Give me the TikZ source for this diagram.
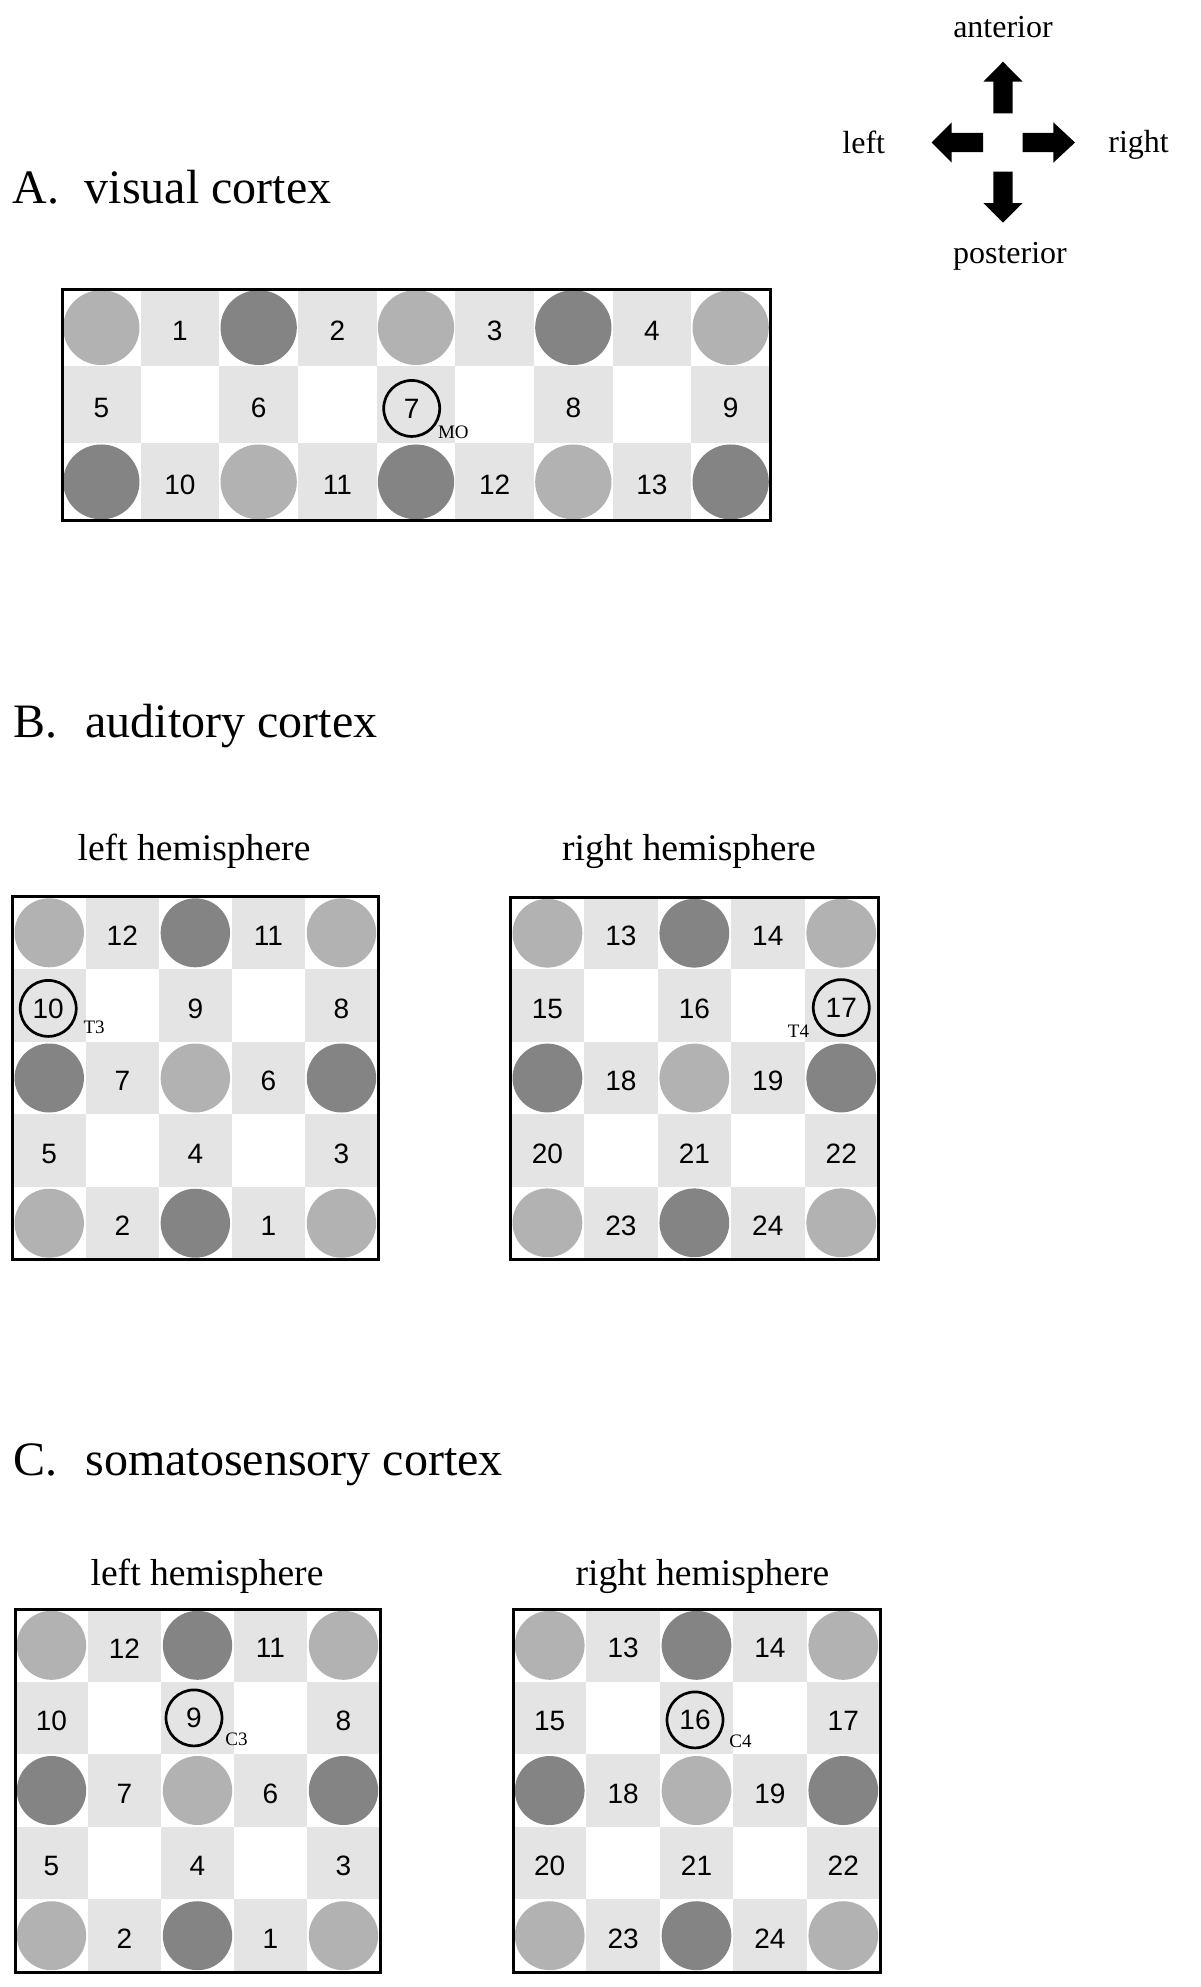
\documentclass[tikz,border=0pt]{standalone}
\usepackage{fontspec}
\setmainfont{Liberation Serif}
\newfontfamily\numfont{Liberation Sans}
\usetikzlibrary{calc}
\definecolor{cellgray}{RGB}{228,228,228}
\definecolor{lightdot}{RGB}{178,178,178}
\definecolor{darkdot}{RGB}{132,132,132}
\tikzset{
  heading/.style={anchor=base west, inner sep=0pt, font=\fontsize{24}{28}\selectfont},
  subtitle/.style={anchor=base, inner sep=0pt, font=\fontsize{18.8}{22}\selectfont},
  compass/.style={inner sep=0pt, font=\fontsize{16}{19}\selectfont},
  num/.style={inner sep=0pt, font=\numfont\fontsize{14}{16}\selectfont, yshift=-1.5pt},
  ring/.style={circle, draw, line width=1.35pt, minimum size=28pt, inner sep=0pt, font=\numfont\fontsize{14}{16}\selectfont},
  sitelabel/.style={inner sep=0pt, font=\fontsize{9.5}{11}\selectfont},
  frame/.style={draw, line width=1.5pt},
  blockarrow/.style={fill=black},
}
\newcommand\checker[2]{%
  \foreach \cx in {1,...,#1}{\foreach \ry in {1,...,#2}{%
    \pgfmathtruncatemacro\oddq{mod(\cx+\ry,2)}%
    \ifnum\oddq=1 \fill[cellgray] (\cx-1,\ry-1) rectangle (\cx,\ry);\fi}}}
\newcommand\fivedots{%
  \foreach \cx/\ry/\col in {0/0/lightdot,2/0/darkdot,4/0/lightdot,
                            0/2/darkdot,2/2/lightdot,4/2/darkdot,
                            0/4/lightdot,2/4/darkdot,4/4/lightdot}
    {\fill[\col] (\cx+.5,\ry+.5) circle[radius=0.475];}}
\begin{document}
\begin{tikzpicture}[x=0.5pt,y=-0.5pt]
\useasboundingbox (0,0) rectangle (1200,1987);

% ---------- compass ----------
\coordinate (ctr) at (1003,142.5);
\fill[blockarrow] (1003,61.7) -- (1022.7,81.7) -- (1012.7,81.7) -- (1012.7,113.3) -- (993.3,113.3) -- (993.3,81.7) -- (983.3,81.7) -- cycle;
\fill[blockarrow] (993.3,171.7) -- (1012.7,171.7) -- (1012.7,203) -- (1022.7,203) -- (1003,222.7) -- (983.3,203) -- (993.3,203) -- cycle;
\fill[blockarrow] (931.7,142.5) -- (951.7,122.3) -- (951.7,132.8) -- (983,132.8) -- (983,152.2) -- (951.7,152.2) -- (951.7,162.7) -- cycle;
\fill[blockarrow] (1022.7,132.8) -- (1053.3,132.8) -- (1053.3,122.3) -- (1075,142.5) -- (1053.3,162.7) -- (1053.3,152.2) -- (1022.7,152.2) -- cycle;
\node[compass, anchor=base] (ant) at (1003,37) {anterior};
\node[compass, anchor=base] (post) at (1010,263) {posterior};
\node[compass, anchor=base west] (lft) at (842,153) {left};
\node[compass, anchor=base west] (rgt) at (1108,152) {right};

% ---------- headings ----------
\node[heading] (hA) at (12,203) {\makebox[36.3pt][l]{A.}visual cortex};
\node[heading] (hB) at (13,737) {\makebox[36pt][l]{B.}auditory cortex};
\node[heading] (hC) at (13,1475) {\makebox[36pt][l]{C.}somatosensory cortex};

% ---------- A: visual cortex ----------
\begin{scope}[shift={(62,289)}, x=39.333pt, y=-38.58pt]
  \checker{9}{3}
  \foreach \cx/\ry/\col in {0/0/lightdot,2/0/darkdot,4/0/lightdot,6/0/darkdot,8/0/lightdot,
                            0/2/darkdot,2/2/lightdot,4/2/darkdot,6/2/lightdot,8/2/darkdot}
    {\fill[\col] (\cx+.5,\ry+.5) circle[radius=0.485];}
  \foreach \cx/\ry/\lab in {1/0/1,3/0/2,5/0/3,7/0/4,0/1/5,2/1/6,6/1/8,8/1/9,1/2/10,3/2/11,5/2/12,7/2/13}
    {\node[num] (vis\lab) at (\cx+.5,\ry+.5) {\lab};}
  \node[ring, xshift=-2.15pt, yshift=-1.85pt] (vis7) at (4.5,1.5) {7};
  \node[sitelabel, anchor=base west] (lblMO) at ([xshift=13pt,yshift=-15.25pt]vis7.center) {MO};
  \draw[frame] (0,0) rectangle (9,3);
\end{scope}

% ---------- B: auditory cortex ----------
\node[subtitle] (tBl) at (194,860) {left hemisphere};
\node[subtitle] (tBr) at (689,860) {right hemisphere};

\begin{scope}[shift={(12.7,896.5)}, x=36.53pt, y=-36.3pt]
  \checker{5}{5}
  \fivedots
  \foreach \cx/\ry/\lab in {1/0/12,3/0/11,2/1/9,4/1/8,1/2/7,3/2/6,0/3/5,2/3/4,4/3/3,1/4/2,3/4/1}
    {\node[num] (audL\lab) at (\cx+.5,\ry+.5) {\lab};}
  \node[ring, xshift=-0.5pt, yshift=-1.5pt] (audL10) at (0.5,1.5) {10};
  \node[sitelabel, anchor=base west] (lblT3) at ([xshift=17.5pt,yshift=-12.5pt]audL10.center) {T3};
  \draw[frame] (0,0) rectangle (5,5);
\end{scope}

\begin{scope}[shift={(510.7,897)}, x=36.73pt, y=-36.2pt]
  \checker{5}{5}
  \fivedots
  \foreach \cx/\ry/\lab in {1/0/13,3/0/14,0/1/15,2/1/16,1/2/18,3/2/19,0/3/20,2/3/21,4/3/22,1/4/23,3/4/24}
    {\node[num] (audR\lab) at (\cx+.5,\ry+.5) {\lab};}
  \node[ring, yshift=-1pt] (audR17) at (4.5,1.5) {17};
  \node[sitelabel, anchor=base east] (lblT4) at ([xshift=-15.9pt,yshift=-15pt]audR17.center) {T4};
  \draw[frame] (0,0) rectangle (5,5);
\end{scope}

% ---------- C: somatosensory cortex ----------
\node[subtitle] (tCl) at (207,1585) {left hemisphere};
\node[subtitle] (tCr) at (702.5,1585) {right hemisphere};

\begin{scope}[shift={(15,1609)}, x=36.5pt, y=-36.3pt]
  \checker{5}{5}
  \fivedots
  \foreach \cx/\ry/\lab in {1/0/12,3/0/11,0/1/10,4/1/8,1/2/7,3/2/6,0/3/5,2/3/4,4/3/3,1/4/2,3/4/1}
    {\node[num] (somL\lab) at (\cx+.5,\ry+.5) {\lab};}
  \node[ring, xshift=-1.75pt] (somL9) at (2.5,1.5) {9};
  \node[sitelabel, anchor=base west] (lblC3) at ([xshift=15.5pt,yshift=-14pt]somL9.center) {C3};
  \draw[frame] (0,0) rectangle (5,5);
\end{scope}

\begin{scope}[shift={(513,1609)}, x=36.7pt, y=-36.3pt]
  \checker{5}{5}
  \fivedots
  \foreach \cx/\ry/\lab in {1/0/13,3/0/14,0/1/15,4/1/17,1/2/18,3/2/19,0/3/20,2/3/21,4/3/22,1/4/23,3/4/24}
    {\node[num] (somR\lab) at (\cx+.5,\ry+.5) {\lab};}
  \node[ring, xshift=-0.75pt, yshift=-1pt] (somR16) at (2.5,1.5) {16};
  \node[sitelabel, anchor=base west] (lblC4) at ([xshift=17pt,yshift=-13.75pt]somR16.center) {C4};
  \draw[frame] (0,0) rectangle (5,5);
\end{scope}
\end{tikzpicture}
\end{document}
